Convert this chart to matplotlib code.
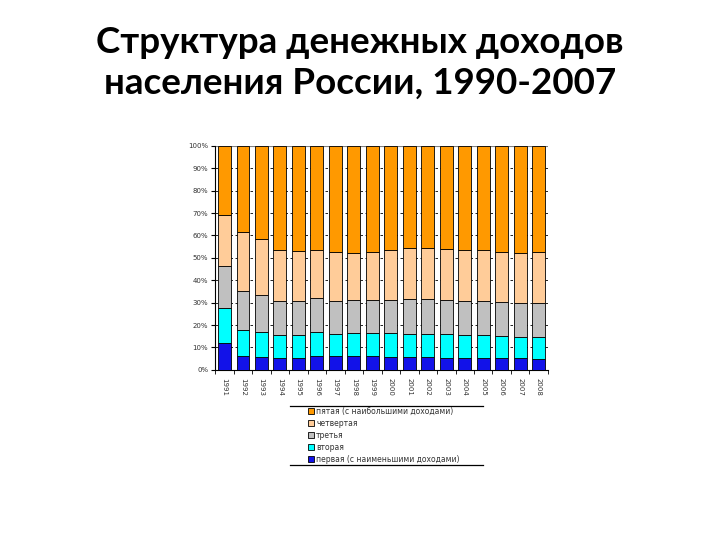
import matplotlib
matplotlib.use("Agg")
import matplotlib.pyplot as plt
from matplotlib.lines import Line2D
import numpy as np

years = [str(y) for y in range(1991, 2009)]

# quintile shares of total money income, %
q1 = [12.2, 6.0, 5.8, 5.3, 5.5, 6.2, 6.0, 6.0, 6.1, 5.9, 5.7, 5.7, 5.5, 5.4, 5.4, 5.3, 5.1, 4.9]
q2 = [15.6, 11.6, 11.1, 10.2, 10.2, 10.7, 10.1, 10.4, 10.5, 10.4, 10.4, 10.4, 10.3, 10.1, 10.1, 9.9, 9.8, 10.0]
q3 = [18.6, 17.6, 16.7, 15.2, 15.0, 15.2, 14.8, 14.8, 14.8, 15.1, 15.4, 15.4, 15.3, 15.1, 15.1, 14.9, 14.8, 14.9]
q4 = [22.8, 26.5, 24.8, 23.0, 22.4, 21.5, 21.6, 21.1, 21.0, 21.9, 22.8, 22.7, 22.7, 22.7, 22.7, 22.6, 22.5, 22.6]
q5 = [30.8, 38.3, 41.6, 46.3, 46.9, 46.4, 47.5, 47.7, 47.6, 46.7, 45.7, 45.8, 46.2, 46.7, 46.7, 47.3, 47.8, 47.6]

series = [
    ("первая (с наименьшими доходами)", q1, "#1212E8"),
    ("вторая", q2, "#00FFFF"),
    ("третья", q3, "#C0C0C0"),
    ("четвертая", q4, "#FFCC99"),
    ("пятая (с наибольшими доходами)", q5, "#FF9900"),
]

plt.rcParams["font.family"] = ["DejaVu Sans"]
fig = plt.figure(figsize=(7.2, 5.4), dpi=100)

fig.text(0.5, 0.952, "Структура денежных доходов\nнаселения России, 1990-2007",
         ha="center", va="top", fontsize=26.5, fontweight="bold",
         family=["Lato", "DejaVu Sans"], linespacing=1.29)

ax = fig.add_axes([0.299, 0.315, 0.462, 0.415])
x = np.arange(len(years))
bottom = np.zeros(len(years))
handles = []
for label, vals, color in series:
    vals = np.array(vals)
    b = ax.bar(x, vals, width=0.7, bottom=bottom, color=color,
               edgecolor="black", linewidth=0.6, label=label, zorder=3)
    handles.append(b)
    bottom = bottom + vals

ax.set_xlim(-0.5, len(years) - 0.5)
ax.set_ylim(0, 100)
ax.set_yticks(range(0, 101, 10))
ax.set_yticklabels([f"{v}%" for v in range(0, 101, 10)], fontsize=5, color="#333333")
for v in range(10, 100, 10):
    ax.axhline(v, color="black", lw=0.6, ls=(0, (3, 3)), zorder=1)
ax.axhline(100, color="#808080", lw=0.8, zorder=1)

ax.set_xticks(x)
ax.set_xticklabels(years, rotation=-90, fontsize=5, color="#333333")
ax.set_xticks(np.arange(-0.5, len(years)), minor=True)
ax.tick_params(axis="x", which="major", length=0, pad=6)
ax.tick_params(axis="x", which="minor", length=3, color="black")
ax.tick_params(axis="y", length=3, pad=2)
for s in ("top", "right"):
    ax.spines[s].set_visible(False)
ax.spines["left"].set_linewidth(0.8)
ax.spines["bottom"].set_linewidth(0.8)

leg = fig.legend(handles[::-1], [s[0] for s in series][::-1],
                 loc="upper left", bbox_to_anchor=(0.42, 0.257),
                 fontsize=5.5, frameon=False,
                 handlelength=0.8, handleheight=0.8, handletextpad=0.3,
                 labelspacing=0.4, borderpad=0.2)
for t in leg.get_texts():
    t.set_color("#333333")

# legend frame: only top and bottom rules
for yy in (1 - 406 / 540, 1 - 465 / 540):
    fig.add_artist(Line2D([290 / 720, 483 / 720], [yy, yy], color="black", lw=0.9,
                          transform=fig.transFigure))

fig.savefig("out.png", dpi=100)
